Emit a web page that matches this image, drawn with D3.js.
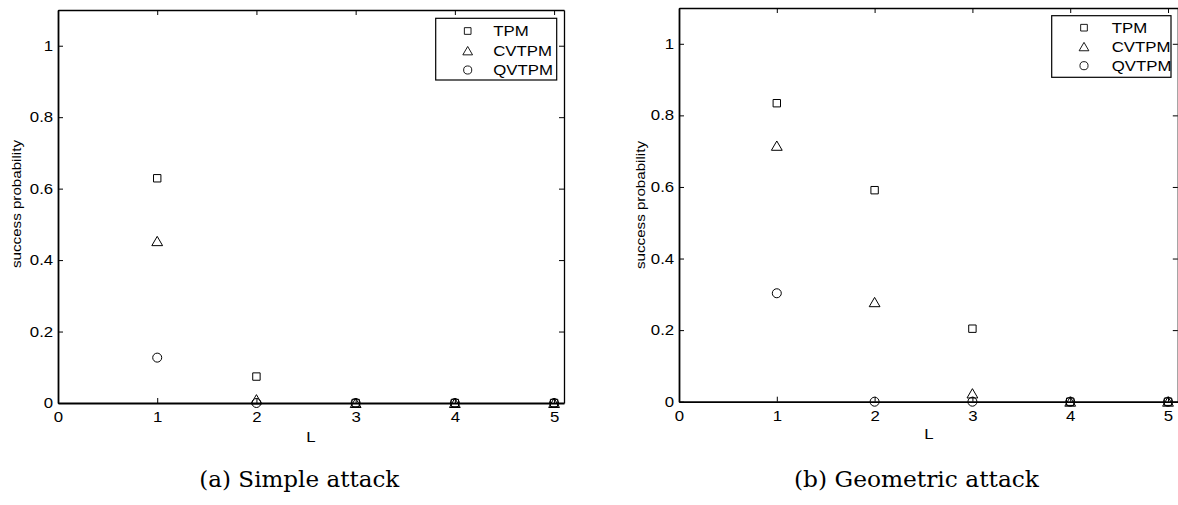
<!DOCTYPE html>
<html>
<head>
<meta charset="utf-8">
<script src="https://cdn.jsdelivr.net/npm/d3@7"></script>
<style>
  body { margin: 0; background: #fff; }
  svg { display: block; }
  text { fill: #000; }
</style>
</head>
<body>
<script>
// DATA
const L = [1, 2, 3, 4, 5];
const seriesNames = ["TPM", "CVTPM", "QVTPM"];
const simpleTPM = [0.629, 0.074, 0, 0, 0];
const simpleCVTPM = [0.453, 0.01, 0, 0, 0];
const simpleQVTPM = [0.127, 0, 0, 0, 0];
const geoTPM = [0.834, 0.591, 0.204, 0, 0];
const geoCVTPM = [0.715, 0.278, 0.023, 0, 0];
const geoQVTPM = [0.303, 0, 0, 0, 0];
const xTicks = [0, 1, 2, 3, 4, 5];
const yTicks = [0, 0.2, 0.4, 0.6, 0.8, 1];
const xDomain = [0, 5.1];
const yDomain = [0, 1.1];

// LAYOUT OF THE TWO PANELS
const panels = [
  { left: 58, right: 564, top: 10, bottom: 403,
    series: [simpleTPM, simpleCVTPM, simpleQVTPM],
    legend: { x: 435.7, y: 18.3, w: 121, h: 61.7, mx: 32, tx: 57.5, rows: [12.7, 32.5, 51.7] },
    ylab: { x: 20.5, y: 204 }, xlab: { x: 311, y: 441.7 },
    caption: { text: "(a)  Simple attack", x: 299.3, y: 487, len: 200 } },
  { left: 679, right: 1177.8, top: 8, bottom: 401.7,
    series: [geoTPM, geoCVTPM, geoQVTPM],
    legend: { x: 1051.7, y: 15.7, w: 119.3, h: 61.6, mx: 32.3, tx: 60, rows: [12, 31, 50] },
    ylab: { x: 644.5, y: 205 }, xlab: { x: 929, y: 439.3 },
    caption: { text: "(b)  Geometric attack", x: 916.5, y: 487, len: 245 } }
];

const W = 1178, H = 505;
const SANS = "'Liberation Sans', Arial, Helvetica, sans-serif";
const STRETCH = "scale(1.2,1)";

var svg = d3.select("body").append("svg")
  .attr("width", W)
  .attr("height", H);

// MARKER PATHS CENTRED ON (0,0)
function markerPath(i) {
  if (i === 0) return "M-3.7,-3.7H3.7V3.7H-3.7Z";
  if (i === 1) return "M0,-4.8L5.4,4.5H-5.4Z";
  const p = d3.path();
  p.arc(0, 0, 4.5, 0, 2 * Math.PI);
  return p.toString();
}

function styleAxis(g, width) {
  g.select(".domain").attr("stroke", "#000").attr("stroke-width", width);
  g.selectAll(".tick line").attr("stroke", "#000").attr("stroke-width", 1);
  g.selectAll(".tick text")
    .attr("font-family", SANS)
    .attr("font-size", 14)
    .attr("fill", "#000")
    .attr("transform", STRETCH);
}

panels.forEach((p) => {
  const x = d3.scaleLinear().domain(xDomain).range([p.left, p.right]);
  const y = d3.scaleLinear().domain(yDomain).range([p.bottom, p.top]);

  // AXES (TICKS POINT INWARD)
  svg.append("g")
    .attr("transform", `translate(0,${p.top})`)
    .call(d3.axisTop(x).tickValues(xTicks).tickSize(-5).tickSizeOuter(0).tickFormat(""))
    .call(g => styleAxis(g, 1.3));

  svg.append("g")
    .attr("transform", `translate(${p.right},0)`)
    .call(d3.axisRight(y).tickValues(yTicks).tickSize(-5).tickSizeOuter(0).tickFormat(""))
    .call(g => styleAxis(g, 1.3));

  svg.append("g")
    .attr("transform", `translate(0,${p.bottom})`)
    .call(d3.axisBottom(x).tickValues(xTicks).tickSize(-5).tickSizeOuter(0).tickPadding(9).tickFormat(d3.format("d")))
    .call(g => styleAxis(g, 1.8));

  svg.append("g")
    .attr("transform", `translate(${p.left},0)`)
    .call(d3.axisLeft(y).tickValues(yTicks).tickSize(-5).tickSizeOuter(0).tickPadding(4).tickFormat(d => d === 0 || d === 1 ? d3.format("d")(d) : d3.format(".1f")(d)))
    .call(g => styleAxis(g, 1.8));

  // MARKERS
  p.series.forEach((vals, i) => {
    svg.append("g").selectAll("path")
      .data(vals)
      .enter()
      .append("path")
      .attr("transform", (d, j) => `translate(${x(L[j])},${y(d)})`)
      .attr("d", markerPath(i))
      .attr("fill", "none")
      .attr("stroke", "#000")
      .attr("stroke-width", 1);
  });

  // LEGEND
  const lg = svg.append("g").attr("transform", `translate(${p.legend.x},${p.legend.y})`);
  lg.append("rect")
    .attr("width", p.legend.w)
    .attr("height", p.legend.h)
    .attr("fill", "#fff")
    .attr("stroke", "#000")
    .attr("stroke-width", 1.2);
  seriesNames.forEach((name, i) => {
    lg.append("path")
      .attr("transform", `translate(${p.legend.mx},${p.legend.rows[i]}) scale(0.9)`)
      .attr("d", markerPath(i))
      .attr("fill", "none")
      .attr("stroke", "#000")
      .attr("stroke-width", 1);
    lg.append("text")
      .attr("transform", `translate(${p.legend.tx},${p.legend.rows[i] + 5}) ${STRETCH}`)
      .attr("font-family", SANS)
      .attr("font-size", 14)
      .text(name);
  });

  // AXIS LABELS
  svg.append("text")
    .attr("transform", `translate(${p.xlab.x},${p.xlab.y}) ${STRETCH}`)
    .attr("text-anchor", "middle")
    .attr("font-family", SANS)
    .attr("font-size", 14)
    .text("L");

  svg.append("text")
    .attr("transform", `translate(${p.ylab.x},${p.ylab.y}) rotate(-90)`)
    .attr("text-anchor", "middle")
    .attr("font-family", SANS)
    .attr("font-size", 12)
    .attr("textLength", 128)
    .attr("lengthAdjust", "spacingAndGlyphs")
    .text("success probability");

  // CAPTION
  svg.append("text")
    .attr("x", p.caption.x)
    .attr("y", p.caption.y)
    .attr("text-anchor", "middle")
    .attr("font-family", "'DejaVu Serif', serif")
    .attr("font-size", 23)
    .attr("textLength", p.caption.len)
    .attr("lengthAdjust", "spacingAndGlyphs")
    .text(p.caption.text);
});
</script>
</body>
</html>
